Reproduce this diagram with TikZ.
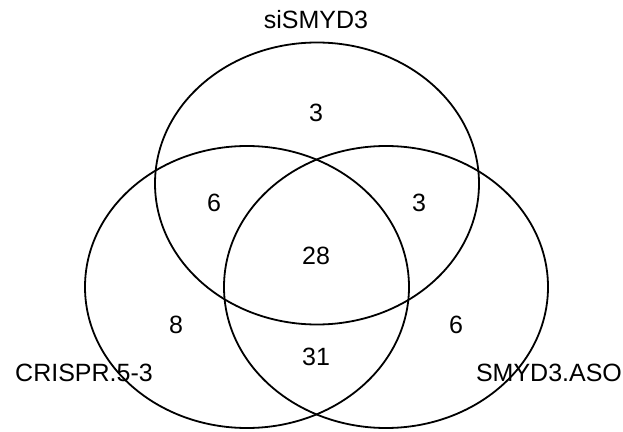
\documentclass[tikz,border=0pt]{standalone}
\usepackage{fontspec}
\setmainfont{Liberation Sans}
\begin{document}
\begin{tikzpicture}[x=1pt,y=1pt,
  setring/.style={draw=black,line width=1.8pt},
  lbl/.style={font=\fontsize{25}{29}\selectfont,inner sep=0pt}]
\useasboundingbox (0,0) rectangle (623,431);
\draw[setring] (317,247.5) ellipse [x radius=162, y radius=141];
\draw[setring] (247,144) ellipse [x radius=162, y radius=141];
\draw[setring] (386,144) ellipse [x radius=162, y radius=141];
\node[lbl] (tA) at (316,411) {siSMYD3};
\node[lbl] (tB) at (84,58) {CRISPR.5-3};
\node[lbl] (tC) at (549,58) {SMYD3.ASO};
\node[lbl] (n1) at (316,318) {3};
\node[lbl] (n2) at (214,228) {6};
\node[lbl] (n3) at (419,228) {3};
\node[lbl] (n4) at (316,175) {28};
\node[lbl] (n5) at (176,106) {8};
\node[lbl] (n6) at (456,106) {6};
\node[lbl] (n7) at (316,74) {31};
\end{tikzpicture}
\end{document}
